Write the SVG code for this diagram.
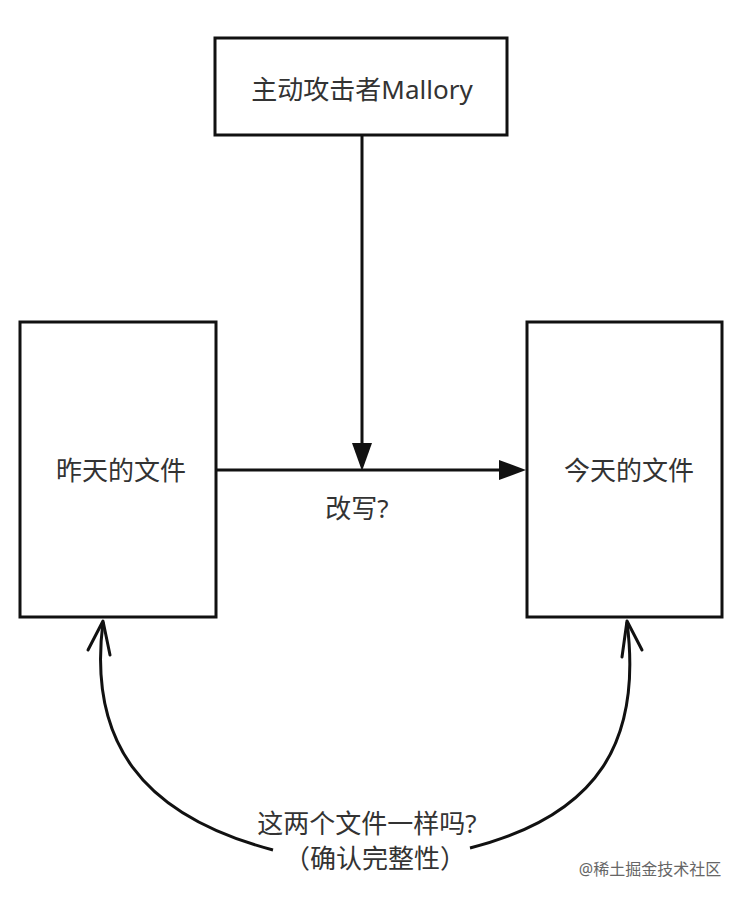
<svg xmlns="http://www.w3.org/2000/svg" width="744" height="902" viewBox="0 0 744 902">
<style>
.box{fill:#fff;stroke:#111;stroke-width:3}
.t{font-family:"Noto Sans","Noto Sans CJK SC",sans-serif;font-size:26px;fill:#333;text-anchor:middle;dominant-baseline:central}
.ln{stroke:#111;stroke-width:3;fill:none}
.ah{fill:#111}
.open{stroke:#111;stroke-width:3;fill:none;stroke-linecap:round;stroke-linejoin:round}
</style>
<rect width="744" height="902" fill="#fff"/>
<g id="connectors">
<line class="ln" x1="362" y1="135" x2="362" y2="446"/>
<polygon class="ah" points="352,443 372,443 362,471"/>
<line class="ln" x1="216" y1="470" x2="502" y2="470"/>
<polygon class="ah" points="499,460 499,480 526,470"/>
<path class="ln" d="M103,622 C88,740 140,815 273,850"/>
<polyline class="open" points="88,650 103,621 110,655"/>
<path class="ln" d="M627,622 C642,740 600,815 470,848"/>
<polyline class="open" points="622,657 627,621 642,650"/>
</g>
<g id="node-mallory">
<rect class="box" x="215" y="38" width="292" height="97"/>
<text class="t" x="362" y="89">主动攻击者Mallory</text>
</g>
<g id="node-yesterday">
<rect class="box" x="20" y="322" width="196" height="295"/>
<text class="t" x="121" y="470">昨天的文件</text>
</g>
<g id="node-today">
<rect class="box" x="527" y="322" width="195" height="295"/>
<text class="t" x="629" y="470">今天的文件</text>
</g>
<g id="labels">
<text class="t" x="357" y="508">改写?</text>
<text class="t" x="367" y="823">这两个文件一样吗?</text>
<text class="t" x="375" y="858">（确认完整性）</text>
<text x="650" y="869" style="font-family:'Noto Sans','Noto Sans CJK SC',sans-serif;font-size:16px;fill:#666;text-anchor:middle;dominant-baseline:central">@稀土掘金技术社区</text>
</g>
</svg>
